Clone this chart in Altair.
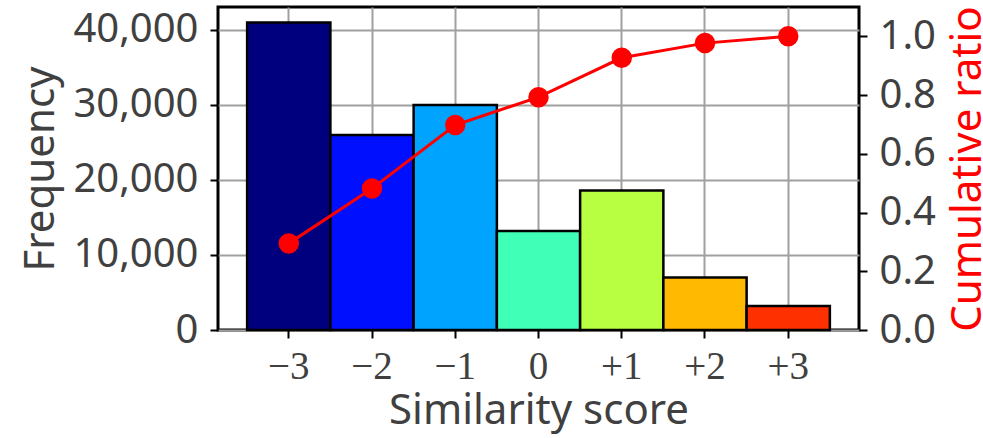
import altair as alt
import pandas as pd

scores = ["\u22123", "\u22122", "\u22121", "0", "+1", "+2", "+3"]
frequency = [41000, 26000, 30000, 13200, 18600, 7000, 3200]
cumulative = [0.295, 0.482, 0.698, 0.793, 0.927, 0.977, 1.0]
bar_colors = ["#00007f", "#0010ff", "#00a4ff", "#40ffb7", "#b7ff40", "#ffb900", "#ff3000"]

df = pd.DataFrame({"score": scores, "freq": frequency, "cum": cumulative})

x_enc = alt.X(
    "score:N",
    sort=scores,
    scale=alt.Scale(paddingInner=0, paddingOuter=0.35),
    axis=alt.Axis(
        title="Similarity score",
        grid=True,
        bandPosition=0.5,
        labelAngle=0,
        labelFont="Liberation Serif",
        labelFontSize=39,
        labelPadding=9,
        titlePadding=4,
    ),
)

bars = alt.Chart(df).mark_bar(stroke="black", strokeWidth=2.5, opacity=1).encode(
    x=x_enc,
    y=alt.Y(
        "freq:Q",
        scale=alt.Scale(domain=[0, 43050], nice=False),
        axis=alt.Axis(
            title="Frequency",
            values=[0, 10000, 20000, 30000, 40000],
            format=",.0f",
            grid=True,
            labelPadding=12,
            titlePadding=10,
        ),
    ),
    color=alt.Color("score:N", sort=scores, scale=alt.Scale(domain=scores, range=bar_colors), legend=None),
)

line_base = alt.Chart(df).encode(
    x=x_enc,
    y=alt.Y(
        "cum:Q",
        scale=alt.Scale(domain=[0, 1.1], nice=False),
        axis=alt.Axis(
            title="Cumulative ratio",
            orient="right",
            values=[0, 0.2, 0.4, 0.6, 0.8, 1.0],
            format=".1f",
            grid=False,
            labelPadding=12,
            titleColor="#ff0000",
            titleAngle=270,
            titleBaseline="top",
            titlePadding=12,
        ),
    ),
)

line = line_base.mark_line(color="#ff0000", strokeWidth=3)
points = line_base.mark_point(filled=True, color="#ff0000", size=420, opacity=1)

chart = (
    alt.layer(bars, alt.layer(line, points))
    .resolve_scale(y="independent")
    .properties(
        width=641,
        height=323,
        autosize=alt.AutoSizeParams(type="none"),
        padding={"left": 218, "top": 7, "right": 124, "bottom": 108},
    )
    .configure_view(stroke="black", strokeWidth=3)
    .configure_axis(
        domain=False,
        ticks=True,
        tickSize=8,
        tickWidth=2,
        tickColor="black",
        gridColor="#a0a0a0",
        gridWidth=2,
        labelFont="Noto Sans",
        labelFontSize=40,
        labelColor="#404040",
        titleFont="Noto Sans",
        titleFontSize=42,
        titleFontWeight="normal",
        titleColor="#404040",
    )
)

chart.save("out.html", embed_options={"renderer": "svg", "actions": False})
